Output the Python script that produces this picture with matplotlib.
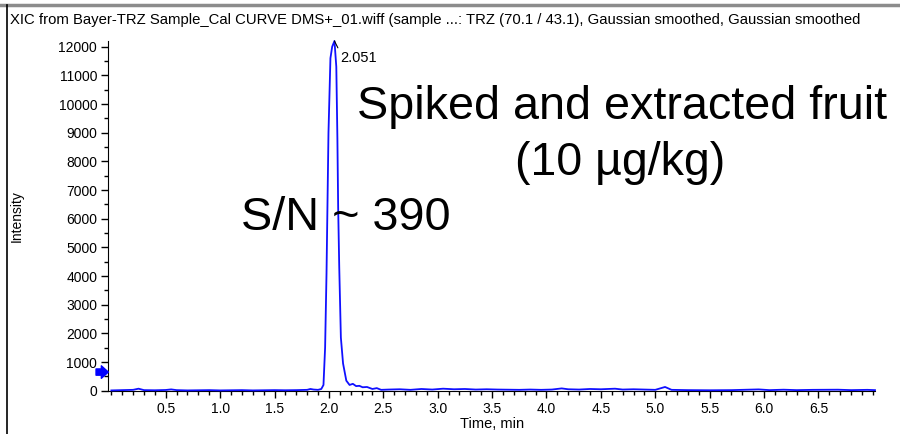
import matplotlib
matplotlib.use('Agg')
import matplotlib.pyplot as plt
from matplotlib.lines import Line2D
from matplotlib.ticker import MultipleLocator
import matplotlib.transforms as mtransforms

plt.rcParams['font.family'] = ['Liberation Sans', 'DejaVu Sans']

# Chromatogram: time (min) and intensity (cps)
time_min = [0.00, 0.10, 0.20, 0.25, 0.30, 0.40, 0.50, 0.55, 0.60, 0.70,
            0.80, 0.90, 1.00, 1.10, 1.20, 1.30, 1.40, 1.50, 1.60, 1.70,
            1.80, 1.83, 1.86, 1.90, 1.93, 1.950, 1.965, 1.978, 1.996, 2.014,
            2.030, 2.051, 2.068, 2.078, 2.085, 2.095, 2.110, 2.130, 2.160, 2.190,
            2.220, 2.250, 2.280, 2.310, 2.350, 2.400, 2.440, 2.480, 2.55, 2.65,
            2.75, 2.85, 2.95, 3.05, 3.15, 3.25, 3.35, 3.45, 3.55, 3.65,
            3.75, 3.85, 3.95, 4.05, 4.14, 4.20, 4.30, 4.40, 4.50, 4.63,
            4.70, 4.80, 4.90, 5.00, 5.09, 5.15, 5.30, 5.50, 5.70, 5.95,
            6.05, 6.18, 6.30, 6.45, 6.68, 6.80, 6.95, 7.02]
intensity = [10, 20, 30, 70, 20, 15, 25, 45, 20, 10,
             15, 20, 10, 15, 20, 10, 15, 20, 15, 20,
             30, 60, 40, 30, 60, 200, 1500, 4100, 9000, 11600,
             12000, 12200, 11300, 8800, 6400, 4300, 1850, 950, 350, 200,
             240, 160, 170, 120, 130, 60, 90, 30, 40, 50,
             30, 60, 40, 70, 50, 60, 40, 50, 40, 35,
             30, 40, 30, 40, 80, 50, 40, 60, 50, 70,
             40, 50, 40, 30, 130, 30, 20, 15, 20, 45,
             20, 35, 20, 30, 35, 20, 30, 20]

peak_rt = 2.051
peak_height = 12200
threshold = 650

title = ('XIC from Bayer-TRZ Sample_Cal CURVE DMS+_01.wiff (sample ...: '
         'TRZ (70.1 / 43.1), Gaussian smoothed, Gaussian smoothed')

W, H = 900, 434
fig = plt.figure(figsize=(W/100, H/100), dpi=100)
ax = fig.add_axes([108.3/W, 43.3/H, (875-108.3)/W, (391-41)/H])

ax.plot(time_min, intensity, color='#1010ff', lw=1.3, clip_on=False, zorder=3)

ax.set_xlim(-0.028, 7.02)
ax.set_ylim(0, 12210)
ax.xaxis.set_minor_locator(MultipleLocator(0.1))
ax.yaxis.set_major_locator(MultipleLocator(1000))
ax.yaxis.set_minor_locator(MultipleLocator(500))
ax.set_xticks([0.5*i for i in range(1, 14)])
ax.set_xticklabels(['%.1f' % (0.5*i) for i in range(1, 14)])
ax.tick_params(which='major', direction='out', length=5, width=1, labelsize=10, pad=3)
ax.tick_params(which='minor', direction='out', length=3, width=1)
for s in ('top', 'right'):
    ax.spines[s].set_visible(False)
ax.set_xlabel('Time, min', fontsize=10.5)
ax.xaxis.set_label_coords(0.5, -(417 - 391) / 350.0)
ax.set_ylabel('Intensity', fontsize=10)
ax.yaxis.set_label_coords(-(108.3 - 24) / 766.7, 0.5)

# peak label
ax.annotate('%.3f' % peak_rt, xy=(peak_rt, peak_height), xytext=(2.108, 11620),
            fontsize=10.5, ha='left', va='center', annotation_clip=False,
            arrowprops=dict(arrowstyle='-', color='black', lw=0.8, shrinkA=0, shrinkB=0,
                            relpos=(0.0, 0.8)))

# threshold arrow on the y axis
trans = mtransforms.blended_transform_factory(ax.transAxes, ax.transData)
ax.annotate('', xy=(0.0, threshold), xycoords=trans, xytext=(-0.016, threshold),
            textcoords=trans, annotation_clip=False,
            arrowprops=dict(arrowstyle='simple,head_width=0.9,head_length=0.5,tail_width=0.45',
                            color='#0000ff', shrinkA=0, shrinkB=0))

# big annotations
fig.text(622/W, 1 - 107/H, 'Spiked and extracted fruit', fontsize=33.7, ha='center', va='center')
fig.text(620/W, 1 - 163/H, '(10 \u00b5g/kg)', fontsize=33.5, ha='center', va='center')
fig.text(346/W, 1 - 218/H, 'S/N ~ 390', fontsize=33.7, ha='center', va='center')

# window frame and title
fig.add_artist(Line2D([0, 1], [1 - 4.5/H, 1 - 4.5/H], color='#8c8c8c', lw=2.5))
fig.add_artist(Line2D([6.5/W, 6.5/W], [0, 1 - 5/H], color='black', lw=1.2))
fig.text(10/W, 1 - 20/H, title, fontsize=10.7, ha='left', va='center')

fig.savefig('out.png', dpi=100)
